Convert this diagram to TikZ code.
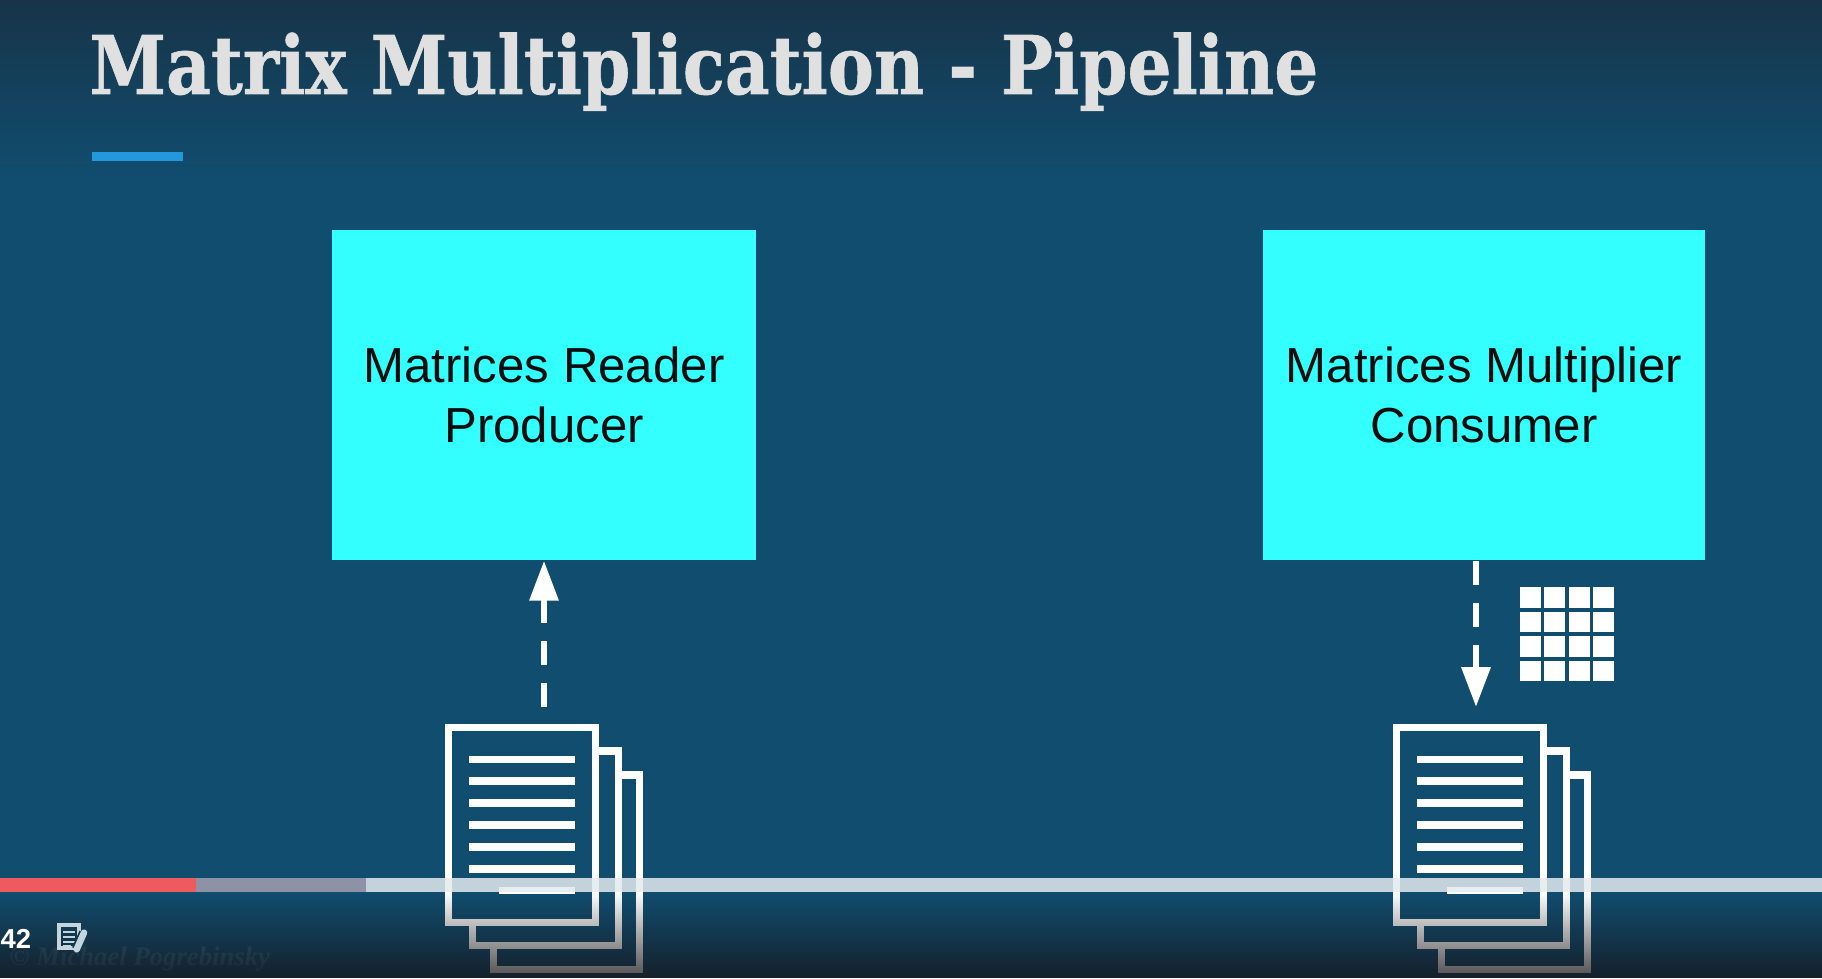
\documentclass[tikz,border=0pt]{standalone}
\usepackage{fontspec}
\setmainfont{Liberation Sans}
\newfontfamily\titlefont[BoldFeatures={FakeBold=0.8}]{DejaVu Serif}
\newfontfamily\markfont{Liberation Serif}
\usetikzlibrary{positioning}
\usetikzlibrary{arrows.meta}
\usetikzlibrary{fadings}
\definecolor{bgblue}{HTML}{114D6F}
\definecolor{bgtop}{HTML}{173449}
\definecolor{bgbottom}{HTML}{161215}
\definecolor{boxcyan}{HTML}{33FFFF}
\definecolor{accentblue}{HTML}{2299DD}
\definecolor{barred}{HTML}{EF5A5F}
\definecolor{bargrey}{HTML}{8D92A6}
\definecolor{barlight}{HTML}{E4EAEF}
\definecolor{iconlight}{HTML}{C5D5DE}
\definecolor{icondark}{HTML}{103A53}
\tikzset{
	stagebox/.style={fill=boxcyan,minimum width=#1,minimum height=3.3cm,align=center,
		inner sep=0pt,font=\fontsize{14}{16.9}\selectfont,text=black!95},
	flowline/.style={white,line width=0.065cm,dash pattern=on 0.245cm off 0.175cm,
		-{Triangle[length=0.4cm,width=0.28cm]}},
	pageline/.style={white,line width=0.072cm},
}
\begin{document}
\begin{tikzpicture}
	\useasboundingbox (0,0) rectangle (18.22,9.78);
	\fill[bgblue] (0,0) rectangle (18.22,9.78);
	\shade[top color=bgtop,bottom color=bgblue] (0,9.78) rectangle (18.22,8.0);
	\node[anchor=base west,inner sep=0pt,text=white!88!black,xscale=0.855,
		font=\fontsize{23}{23}\titlefont\bfseries] (title) at (0.89,8.84) {Matrix Multiplication - Pipeline};
	\fill[accentblue] (0.915,8.26) rectangle (1.83,8.17);
	\node[stagebox=4.24cm] (reader) at (5.44,5.83) {Matrices Reader\\Producer};
	\node[stagebox=4.42cm] (multiplier) at (14.84,5.83) {Matrices Multiplier\\Consumer};
	\coordinate (readerTail) at (5.44,2.707);
	\coordinate (multiplierTip) at (14.76,2.71);
	\draw[flowline] (readerTail) -- (reader.south);
	\draw[flowline] (multiplierTip |- multiplier.south) -- (multiplierTip);
	\foreach \i in {0,1,2,3}
		\foreach \j in {0,1,2,3}
			\fill[white] (15.2+0.244*\i,3.7-0.244*\j) rectangle ++(0.207,0.207);
	\foreach \s in {0,9.48} {
		\begin{scope}[xshift=\s cm]
			\draw[pageline] (4.487,0.553) rectangle (5.953,2.507);
			\draw[pageline] (5.953,2.27) -- (6.187,2.27) -- (6.187,0.323) -- (4.723,0.323) -- (4.723,0.553);
			\draw[pageline] (6.187,2.03) -- (6.397,2.03) -- (6.397,0.087) -- (4.933,0.087) -- (4.933,0.323);
			\foreach \y in {2.187,1.97,1.75,1.53,1.31,1.09}
				\draw[pageline] (4.687,\y) -- (5.753,\y);
			\draw[pageline] (4.987,0.877) -- (5.753,0.877);
		\end{scope}
	}
	\node[anchor=base west,inner sep=0pt,text=white,opacity=0.13,
		font=\fontsize{7.6}{8}\markfont\itshape\bfseries] (mark) at (0.09,0.13) {© Michael Pogrebinsky};
	\fill[bgbottom,opacity=0.75,path fading=north] (0,0) rectangle (18.22,0.86);
	% player bar
	\fill[barred] (0,0.86) rectangle (1.96,1.0);
	\fill[bargrey] (1.96,0.86) rectangle (3.66,1.0);
	\fill[barlight,opacity=0.85] (3.66,0.86) rectangle (18.22,1.0);
	\node[anchor=base west,inner sep=0pt,text=white,
		font=\fontsize{7.8}{8}\selectfont\bfseries] (time) at (0.0,0.3) {42};
	\draw[iconlight,line width=0.043cm] (0.593,0.3) rectangle (0.787,0.533);
	\foreach \y in {0.463,0.413,0.363}
		\draw[iconlight,line width=0.022cm] (0.633,\y) -- (0.75,\y);
	\draw[iconlight,line width=0.022cm] (0.633,0.32) -- (0.71,0.32);
	\draw[icondark,line width=0.1cm] (0.84,0.453) -- (0.767,0.287);
	\draw[iconlight,line width=0.065cm,line cap=round] (0.84,0.453) -- (0.767,0.287);
\end{tikzpicture}
\end{document}
